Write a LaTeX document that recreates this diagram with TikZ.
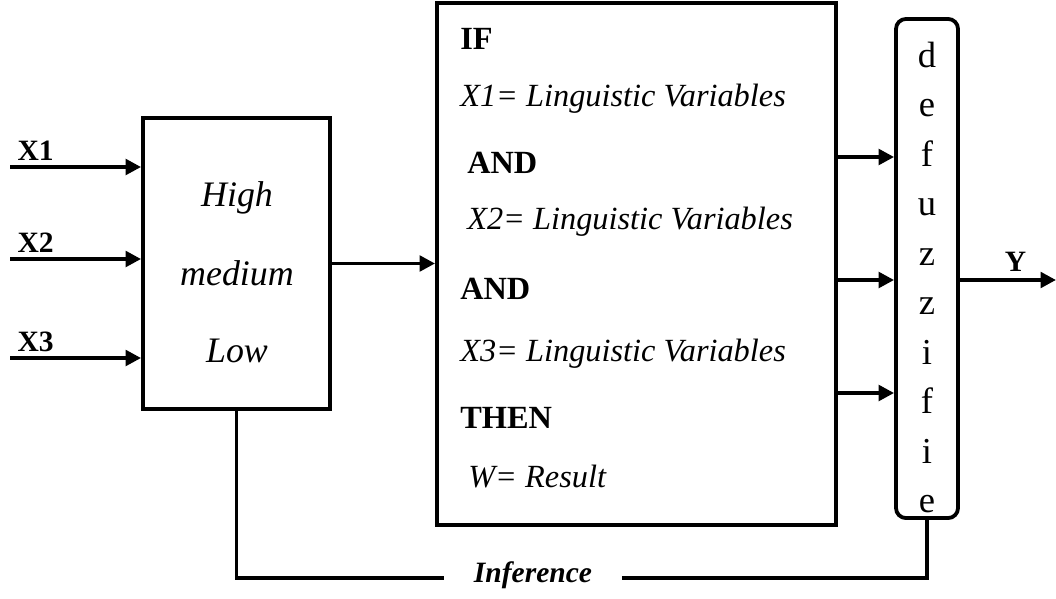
\documentclass[tikz,border=0pt]{standalone}
\usepackage{fontspec}
\setmainfont{Liberation Serif}
\usetikzlibrary{arrows.meta,positioning}

\tikzset{
  block/.style={draw,line width=2.7pt,inner sep=0pt},
  flow/.style={line width=2.7pt,-{Triangle[length=11pt,width=11pt]}},
  link/.style={line width=2.7pt},
  inlabel/.style={font=\fontsize{21}{24}\selectfont\bfseries,inner sep=0pt},
  fuzztext/.style={font=\fontsize{25.5}{28}\selectfont\itshape},
  rulebold/.style={anchor=base west,inner sep=0pt,font=\fontsize{23}{26}\selectfont\bfseries},
  ruleit/.style={anchor=base west,inner sep=0pt,font=\fontsize{23}{26}\selectfont\itshape},
}

\begin{document}
\begin{tikzpicture}[x=0.025cm,y=-0.025cm]
  \useasboundingbox (0,0) rectangle (1056,598);
  % Blocks
  \node[block,minimum width=4.675cm,minimum height=7.275cm] (fuzz) at (236.5,263.5) {};
  \node[block,minimum width=9.975cm,minimum height=13.05cm] (rules) at (636.5,264) {};
  \node[block,rounded corners=0.25cm,minimum width=1.55cm,minimum height=12.475cm] (defuzz) at (927,268.5) {};
  % Fuzzification text
  \node[fuzztext] (high) at (237,198) {High};
  \node[fuzztext] (medium) at (237,273) {medium};
  \node[fuzztext] (low) at (237,351) {Low};
  % Rule text
  \node[rulebold] (if) at (460,49) {IF};
  \node[ruleit] (cond1) at (460,106) {X1= Linguistic Variables};
  \node[rulebold] (and1) at (467,173) {AND};
  \node[ruleit] (cond2) at (467,229) {X2= Linguistic Variables};
  \node[rulebold] (and2) at (460,299) {AND};
  \node[ruleit] (cond3) at (460,361) {X3= Linguistic Variables};
  \node[rulebold] (then) at (460,428) {THEN};
  \node[ruleit] (result) at (468,487) {W= Result};
  % Defuzzifier letters
  \foreach \l [count=\i from 0] in {d,e,f,u,z,z,i,f,i,e}
    \node[anchor=base,inner sep=0pt,font=\fontsize{26}{28}\selectfont] (let\i) at (927,67+49.5*\i) {\l};
  % Inputs
  \coordinate (in1) at (10,167);
  \coordinate (in2) at (10,259);
  \coordinate (in3) at (10,358);
  \foreach \n in {1,2,3}
    \draw[flow] (in\n) -- node[inlabel,pos=0,anchor=south west,xshift=4pt,yshift=3pt] (lab\n) {X\n} (in\n -| fuzz.west);
  % Connections
  \draw[flow] (fuzz.east) -- (fuzz.east -| rules.west);
  \foreach \y in {157,280,393}
    \draw[flow] (rules.east |- 0,\y) -- (defuzz.west |- 0,\y);
  \coordinate (out) at (1056,280);
  \draw[flow] (defuzz.east |- out) -- node[inlabel,above=5pt,pos=0.58] (ylab) {Y} (out);
  % Inference loop
  \node[inner xsep=21pt,inner ysep=0pt,text height=0.7em,text depth=0pt,
        font=\fontsize{21}{24}\selectfont\bfseries\itshape] (inf) at (533,578) {Inference};
  \draw[link] (fuzz.south) |- (inf.west);
  \draw[link] (inf.east) -| (defuzz.south);
\end{tikzpicture}
\end{document}
